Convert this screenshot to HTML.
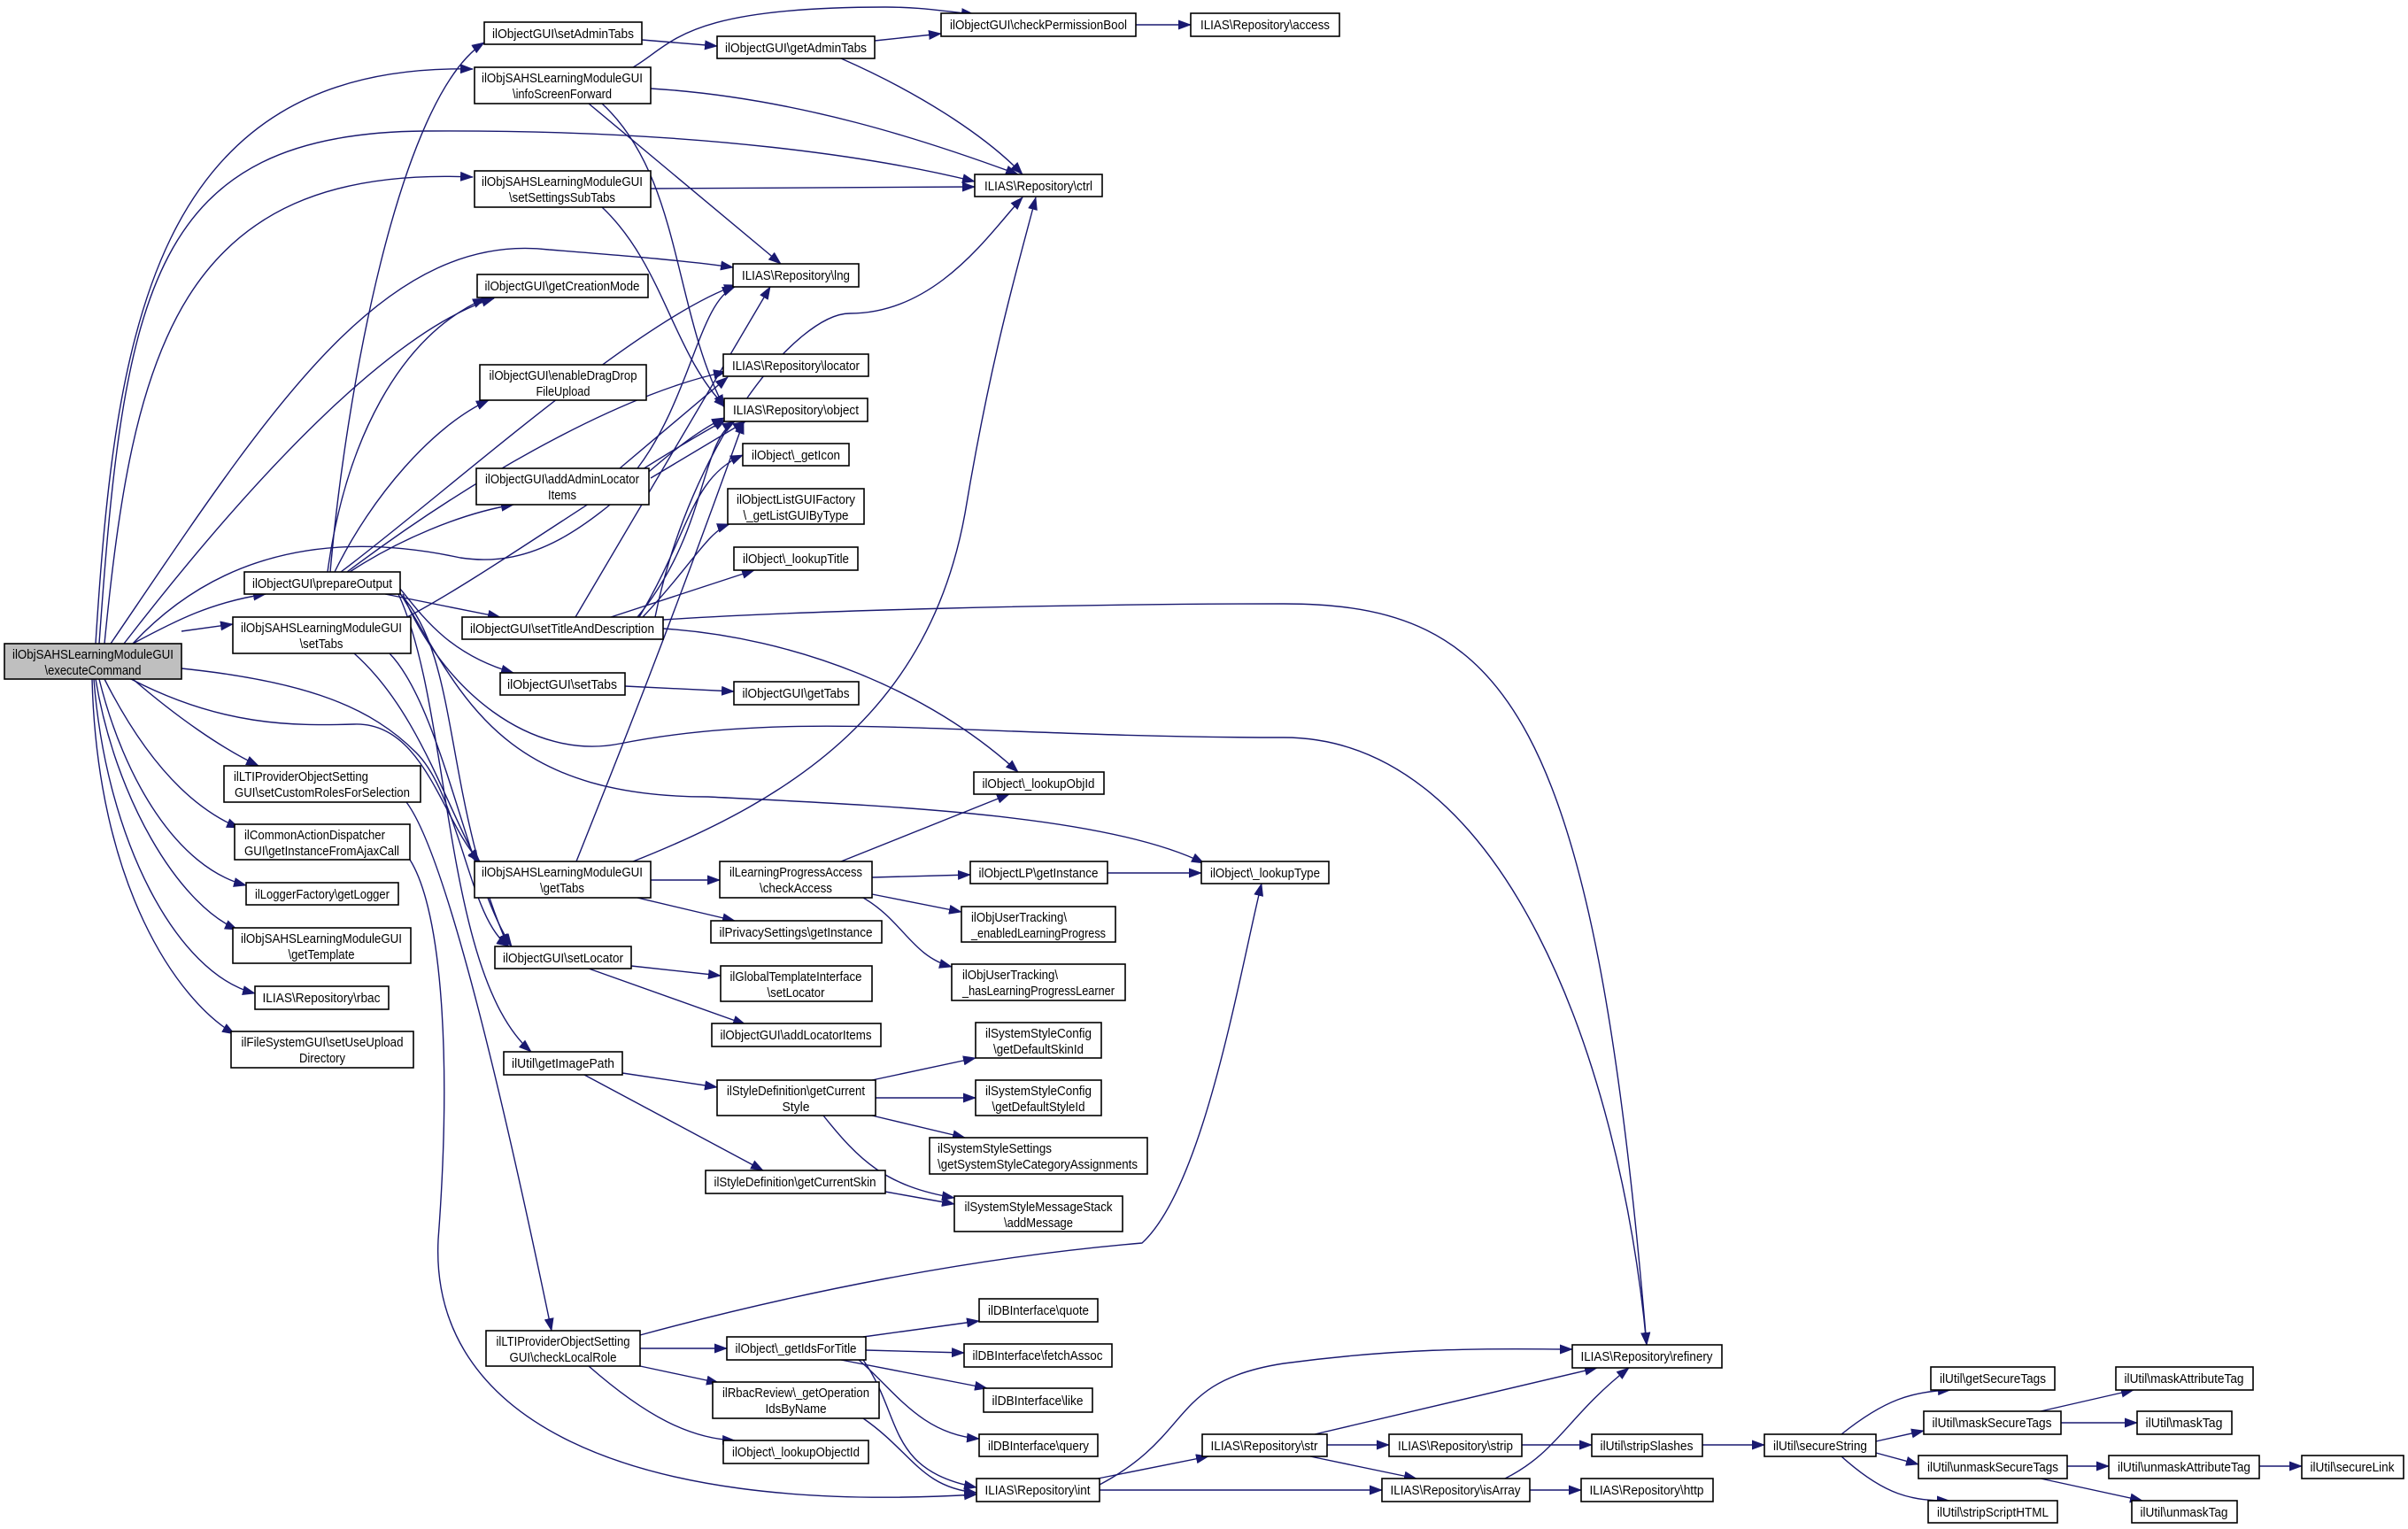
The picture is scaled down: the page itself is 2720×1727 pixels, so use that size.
<!DOCTYPE html>
<html><head><meta charset="utf-8"><style>
html,body{margin:0;padding:0;background:#fff}
svg{display:block}
text{font-family:"Liberation Sans",sans-serif;font-size:15px;fill:#000}
.n rect{fill:#fff;stroke:#000;stroke-width:1.6}
.e path{fill:none;stroke:#191970;stroke-width:1.4}
</style></head><body>
<svg width="2720" height="1727" viewBox="0 0 2720 1727" xmlns="http://www.w3.org/2000/svg">
<defs><marker id="a" markerWidth="15" markerHeight="11" refX="14" refY="5.5" orient="auto" markerUnits="userSpaceOnUse"><path d="M0,0 L15,5.5 L0,11 z" fill="#191970"/></marker></defs>
<g class="e" marker-end="url(#a)">
<!-- executeCommand -->
<path marker-end="url(#a)" d="M108,727 C130,380 170,70 534,78"/>
<path marker-end="url(#a)" d="M112,727 C140,330 170,150 480,148 C800,146 1000,180 1101,205"/>
<path marker-end="url(#a)" d="M118,727 C150,400 200,185 534,200"/>
<path marker-end="url(#a)" d="M125,727 C300,470 430,260 620,282 C720,290 780,295 828,302"/>
<path marker-end="url(#a)" d="M140,727 C300,520 450,370 558,337"/>
<path marker-end="url(#a)" d="M150,727 C200,700 240,680 300,671"/>
<path marker-end="url(#a)" d="M205,713 L263,705"/>
<path marker-end="url(#a)" d="M150,767 C200,810 250,845 292,865"/>
<path marker-end="url(#a)" d="M118,767 C160,850 210,910 270,935"/>
<path marker-end="url(#a)" d="M112,767 C140,880 200,980 278,1000"/>
<path marker-end="url(#a)" d="M108,767 C130,900 200,1020 268,1050"/>
<path marker-end="url(#a)" d="M106,767 C120,950 200,1100 288,1122"/>
<path marker-end="url(#a)" d="M104,767 C110,1000 200,1130 265,1168"/>
<path marker-end="url(#a)" d="M148,767 C250,820 330,820 400,818 C480,815 500,930 542,973"/>
<path marker-end="url(#a)" d="M205,755 C350,770 420,800 470,850 C520,900 530,1040 575,1069"/>
<path marker-end="url(#a)" d="M150,727 C250,620 380,600 520,630 C650,650 720,520 818,472"/>
<!-- prepareOutput -->
<path marker-end="url(#a)" d="M373,646 C390,450 450,110 547,48"/>
<path marker-end="url(#a)" d="M370,646 C390,500 450,380 548,337"/>
<path marker-end="url(#a)" d="M378,646 C420,560 490,480 552,452"/>
<path marker-end="url(#a)" d="M395,646 C450,610 520,580 580,570"/>
<path marker-end="url(#a)" d="M385,646 C500,560 720,360 832,322"/>
<path marker-end="url(#a)" d="M392,646 C560,520 720,440 820,420"/>
<path marker-end="url(#a)" d="M435,671 L565,697"/>
<path marker-end="url(#a)" d="M452,665 C480,700 510,740 580,760"/>
<path marker-end="url(#a)" d="M452,671 C520,740 500,900 574,1069"/>
<path marker-end="url(#a)" d="M450,671 C510,800 500,1100 600,1188"/>
<path marker-end="url(#a)" d="M455,671 C500,780 600,860 700,840 C900,800 1100,833 1450,833 C1700,833 1830,1200 1860,1519"/>
<path marker-end="url(#a)" d="M452,670 C520,780 560,900 800,900 C1000,910 1250,920 1360,975"/>
<!-- setTabs SAHS -->
<path marker-end="url(#a)" d="M460,697 C550,650 700,540 820,474"/>
<path marker-end="url(#a)" d="M400,738 C470,800 500,900 540,975"/>
<path marker-end="url(#a)" d="M440,738 C500,800 530,1000 578,1069"/>
<!-- infoScreenForward -->
<path marker-end="url(#a)" d="M715,76 C760,50 770,8 1000,8 C1040,8 1060,12 1100,16"/>
<path marker-end="url(#a)" d="M735,100 C900,110 1050,160 1150,197"/>
<path marker-end="url(#a)" d="M665,117 L882,298"/>
<path marker-end="url(#a)" d="M680,117 C770,200 760,350 818,460"/>
<path marker-end="url(#a)" d="M725,45 L810,52"/>
<path marker-end="url(#a)" d="M988,46 L1063,38"/>
<path marker-end="url(#a)" d="M950,66 C1050,110 1120,160 1155,197"/>
<path marker-end="url(#a)" d="M1283,28 L1345,28"/>
<path marker-end="url(#a)" d="M735,213 L1101,211"/>
<path marker-end="url(#a)" d="M680,234 C750,300 760,400 820,460"/>
<!-- addAdminLocatorItems -->
<path marker-end="url(#a)" d="M720,529 C780,450 790,340 830,324"/>
<path marker-end="url(#a)" d="M700,529 L822,426"/>
<path marker-end="url(#a)" d="M735,540 L842,476"/>
<!-- setTitleAndDescription -->
<path marker-end="url(#a)" d="M650,697 L870,324"/>
<path marker-end="url(#a)" d="M720,697 C800,600 790,500 830,476"/>
<path marker-end="url(#a)" d="M722,697 C780,600 780,540 839,514"/>
<path marker-end="url(#a)" d="M726,697 C780,640 800,600 824,592"/>
<path marker-end="url(#a)" d="M690,697 L852,644"/>
<path marker-end="url(#a)" d="M749,710 C900,720 1050,780 1150,872"/>
<path marker-end="url(#a)" d="M749,700 C900,690 1200,682 1450,682 C1700,682 1800,800 1860,1519"/>
<path marker-end="url(#a)" d="M740,697 C780,500 900,354 960,354 C1060,354 1120,260 1155,223"/>
<path marker-end="url(#a)" d="M706,775 L829,781"/>
<!-- getTabs SAHS -->
<path marker-end="url(#a)" d="M735,994 L813,994"/>
<path marker-end="url(#a)" d="M720,1014 L830,1040"/>
<path marker-end="url(#a)" d="M651,973 C700,850 760,700 840,476"/>
<path marker-end="url(#a)" d="M715,973 C900,900 1050,800 1090,580 C1120,400 1150,300 1170,223"/>
<path marker-end="url(#a)" d="M459,906 C500,960 560,1200 623,1503"/>
<path marker-end="url(#a)" d="M463,971 C500,1030 510,1200 495,1400 C485,1600 700,1712 1103,1688"/>
<!-- setLocator etc -->
<path marker-end="url(#a)" d="M713,1091 L814,1102"/>
<path marker-end="url(#a)" d="M665,1094 L842,1157"/>
<path marker-end="url(#a)" d="M703,1212 L810,1228"/>
<path marker-end="url(#a)" d="M660,1214 L862,1322"/>
<path marker-end="url(#a)" d="M985,1220 L1102,1195"/>
<path marker-end="url(#a)" d="M989,1240 L1102,1240"/>
<path marker-end="url(#a)" d="M985,1260 L1090,1285"/>
<path marker-end="url(#a)" d="M930,1260 C970,1310 1000,1340 1078,1353"/>
<path marker-end="url(#a)" d="M1000,1346 L1078,1360"/>
<!-- checkAccess -->
<path marker-end="url(#a)" d="M950,973 L1140,897"/>
<path marker-end="url(#a)" d="M985,991 L1096,988"/>
<path marker-end="url(#a)" d="M985,1010 L1086,1030"/>
<path marker-end="url(#a)" d="M975,1014 C1020,1040 1030,1080 1075,1092"/>
<path marker-end="url(#a)" d="M1251,986 L1357,986"/>
<!-- checkLocalRole -->
<path marker-end="url(#a)" d="M723,1508 C900,1460 1100,1420 1290,1404 C1360,1340 1400,1100 1425,998"/>
<path marker-end="url(#a)" d="M723,1523 L821,1523"/>
<path marker-end="url(#a)" d="M723,1543 L812,1562"/>
<path marker-end="url(#a)" d="M665,1543 C730,1600 780,1625 830,1627"/>
<!-- getIdsForTitle -->
<path marker-end="url(#a)" d="M975,1510 L1106,1492"/>
<path marker-end="url(#a)" d="M978,1525 L1089,1528"/>
<path marker-end="url(#a)" d="M950,1536 L1115,1568"/>
<path marker-end="url(#a)" d="M970,1536 C1010,1570 1040,1620 1106,1625"/>
<path marker-end="url(#a)" d="M975,1536 C1020,1600 1000,1660 1103,1680"/>
<path marker-end="url(#a)" d="M975,1602 C1030,1640 1040,1680 1103,1686"/>
<!-- int, str ... -->
<path marker-end="url(#a)" d="M1240,1670 L1365,1645"/>
<path marker-end="url(#a)" d="M1242,1683 L1561,1683"/>
<path marker-end="url(#a)" d="M1242,1677 C1350,1620 1320,1560 1450,1540 C1600,1520 1700,1524 1776,1524"/>
<path marker-end="url(#a)" d="M1485,1620 L1804,1545"/>
<path marker-end="url(#a)" d="M1499,1632 L1569,1632"/>
<path marker-end="url(#a)" d="M1480,1645 L1600,1670"/>
<path marker-end="url(#a)" d="M1719,1632 L1798,1632"/>
<path marker-end="url(#a)" d="M1700,1670 C1760,1640 1770,1600 1840,1545"/>
<path marker-end="url(#a)" d="M1728,1683 L1786,1683"/>
<path marker-end="url(#a)" d="M1923,1632 L1993,1632"/>
<path marker-end="url(#a)" d="M2080,1620 C2130,1580 2160,1572 2203,1570"/>
<path marker-end="url(#a)" d="M2119,1628 L2173,1616"/>
<path marker-end="url(#a)" d="M2119,1641 L2167,1654"/>
<path marker-end="url(#a)" d="M2080,1645 C2130,1690 2160,1695 2202,1695"/>
<path marker-end="url(#a)" d="M2305,1594 L2410,1570"/>
<path marker-end="url(#a)" d="M2328,1607 L2414,1607"/>
<path marker-end="url(#a)" d="M2335,1656 L2382,1656"/>
<path marker-end="url(#a)" d="M2305,1670 L2420,1695"/>
<path marker-end="url(#a)" d="M2552,1656 L2600,1656"/>
</g>
<g class="n">
<rect x="5" y="727" width="200" height="40" style="fill:#bfbfbf"/><text x="105" y="744" text-anchor="middle" textLength="182" lengthAdjust="spacingAndGlyphs">ilObjSAHSLearningModuleGUI</text><text x="105" y="762" text-anchor="middle" textLength="109" lengthAdjust="spacingAndGlyphs">\executeCommand</text>
<rect x="547" y="25" width="178" height="25"/><text x="636" y="43" text-anchor="middle" textLength="160" lengthAdjust="spacingAndGlyphs">ilObjectGUI\setAdminTabs</text>
<rect x="536" y="76" width="199" height="41"/><text x="635" y="93" text-anchor="middle" textLength="182" lengthAdjust="spacingAndGlyphs">ilObjSAHSLearningModuleGUI</text><text x="635" y="111" text-anchor="middle" textLength="112" lengthAdjust="spacingAndGlyphs">\infoScreenForward</text>
<rect x="536" y="193" width="199" height="41"/><text x="635" y="210" text-anchor="middle" textLength="182" lengthAdjust="spacingAndGlyphs">ilObjSAHSLearningModuleGUI</text><text x="635" y="228" text-anchor="middle" textLength="120" lengthAdjust="spacingAndGlyphs">\setSettingsSubTabs</text>
<rect x="539" y="310" width="193" height="26"/><text x="635" y="328" text-anchor="middle" textLength="175" lengthAdjust="spacingAndGlyphs">ilObjectGUI\getCreationMode</text>
<rect x="542" y="412" width="188" height="40"/><text x="636" y="429" text-anchor="middle" textLength="167" lengthAdjust="spacingAndGlyphs">ilObjectGUI\enableDragDrop</text><text x="636" y="447" text-anchor="middle" textLength="61" lengthAdjust="spacingAndGlyphs">FileUpload</text>
<rect x="538" y="529" width="195" height="41"/><text x="635" y="546" text-anchor="middle" textLength="174" lengthAdjust="spacingAndGlyphs">ilObjectGUI\addAdminLocator</text><text x="635" y="564" text-anchor="middle" textLength="32" lengthAdjust="spacingAndGlyphs">Items</text>
<rect x="276" y="646" width="176" height="25"/><text x="364" y="664" text-anchor="middle" textLength="158" lengthAdjust="spacingAndGlyphs">ilObjectGUI\prepareOutput</text>
<rect x="263" y="697" width="201" height="41"/><text x="363" y="714" text-anchor="middle" textLength="182" lengthAdjust="spacingAndGlyphs">ilObjSAHSLearningModuleGUI</text><text x="363" y="732" text-anchor="middle" textLength="49" lengthAdjust="spacingAndGlyphs">\setTabs</text>
<rect x="522" y="697" width="227" height="25"/><text x="635" y="715" text-anchor="middle" textLength="208" lengthAdjust="spacingAndGlyphs">ilObjectGUI\setTitleAndDescription</text>
<rect x="565" y="760" width="141" height="25"/><text x="635" y="778" text-anchor="middle" textLength="124" lengthAdjust="spacingAndGlyphs">ilObjectGUI\setTabs</text>
<rect x="253" y="865" width="222" height="41"/><text x="264" y="882" textLength="152" lengthAdjust="spacingAndGlyphs">ilLTIProviderObjectSetting</text><text x="265" y="900" textLength="198" lengthAdjust="spacingAndGlyphs">GUI\setCustomRolesForSelection</text>
<rect x="265" y="931" width="198" height="40"/><text x="276" y="948" textLength="159" lengthAdjust="spacingAndGlyphs">ilCommonActionDispatcher</text><text x="276" y="966" textLength="175" lengthAdjust="spacingAndGlyphs">GUI\getInstanceFromAjaxCall</text>
<rect x="278" y="997" width="172" height="25"/><text x="364" y="1015" text-anchor="middle" textLength="152" lengthAdjust="spacingAndGlyphs">ilLoggerFactory\getLogger</text>
<rect x="263" y="1048" width="201" height="40"/><text x="363" y="1065" text-anchor="middle" textLength="182" lengthAdjust="spacingAndGlyphs">ilObjSAHSLearningModuleGUI</text><text x="363" y="1083" text-anchor="middle" textLength="75" lengthAdjust="spacingAndGlyphs">\getTemplate</text>
<rect x="288" y="1114" width="151" height="26"/><text x="363" y="1132" text-anchor="middle" textLength="133" lengthAdjust="spacingAndGlyphs">ILIAS\Repository\rbac</text>
<rect x="261" y="1165" width="206" height="41"/><text x="364" y="1182" text-anchor="middle" textLength="183" lengthAdjust="spacingAndGlyphs">ilFileSystemGUI\setUseUpload</text><text x="364" y="1200" text-anchor="middle" textLength="52" lengthAdjust="spacingAndGlyphs">Directory</text>
<rect x="536" y="973" width="199" height="41"/><text x="635" y="990" text-anchor="middle" textLength="182" lengthAdjust="spacingAndGlyphs">ilObjSAHSLearningModuleGUI</text><text x="635" y="1008" text-anchor="middle" textLength="50" lengthAdjust="spacingAndGlyphs">\getTabs</text>
<rect x="559" y="1069" width="154" height="25"/><text x="636" y="1087" text-anchor="middle" textLength="136" lengthAdjust="spacingAndGlyphs">ilObjectGUI\setLocator</text>
<rect x="569" y="1188" width="134" height="26"/><text x="636" y="1206" text-anchor="middle" textLength="116" lengthAdjust="spacingAndGlyphs">ilUtil\getImagePath</text>
<rect x="549" y="1503" width="174" height="40"/><text x="636" y="1520" text-anchor="middle" textLength="151" lengthAdjust="spacingAndGlyphs">ilLTIProviderObjectSetting</text><text x="636" y="1538" text-anchor="middle" textLength="121" lengthAdjust="spacingAndGlyphs">GUI\checkLocalRole</text>
<rect x="810" y="41" width="178" height="25"/><text x="899" y="59" text-anchor="middle" textLength="160" lengthAdjust="spacingAndGlyphs">ilObjectGUI\getAdminTabs</text>
<rect x="1063" y="15" width="220" height="26"/><text x="1173" y="33" text-anchor="middle" textLength="200" lengthAdjust="spacingAndGlyphs">ilObjectGUI\checkPermissionBool</text>
<rect x="1345" y="15" width="168" height="26"/><text x="1429" y="33" text-anchor="middle" textLength="146" lengthAdjust="spacingAndGlyphs">ILIAS\Repository\access</text>
<rect x="1101" y="197" width="144" height="25"/><text x="1173" y="215" text-anchor="middle" textLength="122" lengthAdjust="spacingAndGlyphs">ILIAS\Repository\ctrl</text>
<rect x="828" y="298" width="142" height="26"/><text x="899" y="316" text-anchor="middle" textLength="122" lengthAdjust="spacingAndGlyphs">ILIAS\Repository\lng</text>
<rect x="817" y="400" width="164" height="25"/><text x="899" y="418" text-anchor="middle" textLength="144" lengthAdjust="spacingAndGlyphs">ILIAS\Repository\locator</text>
<rect x="818" y="450" width="162" height="26"/><text x="899" y="468" text-anchor="middle" textLength="142" lengthAdjust="spacingAndGlyphs">ILIAS\Repository\object</text>
<rect x="839" y="501" width="120" height="25"/><text x="899" y="519" text-anchor="middle" textLength="100" lengthAdjust="spacingAndGlyphs">ilObject\_getIcon</text>
<rect x="822" y="552" width="154" height="40"/><text x="899" y="569" text-anchor="middle" textLength="134" lengthAdjust="spacingAndGlyphs">ilObjectListGUIFactory</text><text x="899" y="587" text-anchor="middle" textLength="119" lengthAdjust="spacingAndGlyphs">\_getListGUIByType</text>
<rect x="829" y="618" width="140" height="26"/><text x="899" y="636" text-anchor="middle" textLength="120" lengthAdjust="spacingAndGlyphs">ilObject\_lookupTitle</text>
<rect x="829" y="770" width="141" height="26"/><text x="899" y="788" text-anchor="middle" textLength="121" lengthAdjust="spacingAndGlyphs">ilObjectGUI\getTabs</text>
<rect x="1100" y="872" width="147" height="25"/><text x="1173" y="890" text-anchor="middle" textLength="127" lengthAdjust="spacingAndGlyphs">ilObject\_lookupObjId</text>
<rect x="813" y="973" width="172" height="41"/><text x="899" y="990" text-anchor="middle" textLength="150" lengthAdjust="spacingAndGlyphs">ilLearningProgressAccess</text><text x="899" y="1008" text-anchor="middle" textLength="82" lengthAdjust="spacingAndGlyphs">\checkAccess</text>
<rect x="1096" y="973" width="155" height="25"/><text x="1173" y="991" text-anchor="middle" textLength="135" lengthAdjust="spacingAndGlyphs">ilObjectLP\getInstance</text>
<rect x="1357" y="973" width="144" height="25"/><text x="1429" y="991" text-anchor="middle" textLength="124" lengthAdjust="spacingAndGlyphs">ilObject\_lookupType</text>
<rect x="803" y="1040" width="193" height="25"/><text x="899" y="1058" text-anchor="middle" textLength="173" lengthAdjust="spacingAndGlyphs">ilPrivacySettings\getInstance</text>
<rect x="1086" y="1024" width="174" height="40"/><text x="1097" y="1041" textLength="108" lengthAdjust="spacingAndGlyphs">ilObjUserTracking\</text><text x="1097" y="1059" textLength="152" lengthAdjust="spacingAndGlyphs">_enabledLearningProgress</text>
<rect x="814" y="1091" width="171" height="40"/><text x="899" y="1108" text-anchor="middle" textLength="149" lengthAdjust="spacingAndGlyphs">ilGlobalTemplateInterface</text><text x="899" y="1126" text-anchor="middle" textLength="65" lengthAdjust="spacingAndGlyphs">\setLocator</text>
<rect x="1075" y="1089" width="196" height="41"/><text x="1087" y="1106" textLength="108" lengthAdjust="spacingAndGlyphs">ilObjUserTracking\</text><text x="1087" y="1124" textLength="172" lengthAdjust="spacingAndGlyphs">_hasLearningProgressLearner</text>
<rect x="804" y="1156" width="191" height="26"/><text x="899" y="1174" text-anchor="middle" textLength="171" lengthAdjust="spacingAndGlyphs">ilObjectGUI\addLocatorItems</text>
<rect x="1102" y="1155" width="142" height="40"/><text x="1173" y="1172" text-anchor="middle" textLength="120" lengthAdjust="spacingAndGlyphs">ilSystemStyleConfig</text><text x="1173" y="1190" text-anchor="middle" textLength="102" lengthAdjust="spacingAndGlyphs">\getDefaultSkinId</text>
<rect x="810" y="1220" width="179" height="40"/><text x="899" y="1237" text-anchor="middle" textLength="156" lengthAdjust="spacingAndGlyphs">ilStyleDefinition\getCurrent</text><text x="899" y="1255" text-anchor="middle" textLength="31" lengthAdjust="spacingAndGlyphs">Style</text>
<rect x="1102" y="1220" width="142" height="40"/><text x="1173" y="1237" text-anchor="middle" textLength="120" lengthAdjust="spacingAndGlyphs">ilSystemStyleConfig</text><text x="1173" y="1255" text-anchor="middle" textLength="105" lengthAdjust="spacingAndGlyphs">\getDefaultStyleId</text>
<rect x="1050" y="1285" width="246" height="41"/><text x="1059" y="1302" textLength="129" lengthAdjust="spacingAndGlyphs">ilSystemStyleSettings</text><text x="1059" y="1320" textLength="226" lengthAdjust="spacingAndGlyphs">\getSystemStyleCategoryAssignments</text>
<rect x="797" y="1322" width="203" height="26"/><text x="898" y="1340" text-anchor="middle" textLength="183" lengthAdjust="spacingAndGlyphs">ilStyleDefinition\getCurrentSkin</text>
<rect x="1078" y="1351" width="190" height="40"/><text x="1173" y="1368" text-anchor="middle" textLength="167" lengthAdjust="spacingAndGlyphs">ilSystemStyleMessageStack</text><text x="1173" y="1386" text-anchor="middle" textLength="78" lengthAdjust="spacingAndGlyphs">\addMessage</text>
<rect x="1106" y="1467" width="134" height="26"/><text x="1173" y="1485" text-anchor="middle" textLength="114" lengthAdjust="spacingAndGlyphs">ilDBInterface\quote</text>
<rect x="821" y="1510" width="157" height="26"/><text x="899" y="1528" text-anchor="middle" textLength="137" lengthAdjust="spacingAndGlyphs">ilObject\_getIdsForTitle</text>
<rect x="1089" y="1518" width="167" height="26"/><text x="1172" y="1536" text-anchor="middle" textLength="147" lengthAdjust="spacingAndGlyphs">ilDBInterface\fetchAssoc</text>
<rect x="805" y="1561" width="188" height="41"/><text x="899" y="1578" text-anchor="middle" textLength="166" lengthAdjust="spacingAndGlyphs">ilRbacReview\_getOperation</text><text x="899" y="1596" text-anchor="middle" textLength="69" lengthAdjust="spacingAndGlyphs">IdsByName</text>
<rect x="1111" y="1568" width="123" height="27"/><text x="1172" y="1587" text-anchor="middle" textLength="103" lengthAdjust="spacingAndGlyphs">ilDBInterface\like</text>
<rect x="1106" y="1620" width="134" height="25"/><text x="1173" y="1638" text-anchor="middle" textLength="114" lengthAdjust="spacingAndGlyphs">ilDBInterface\query</text>
<rect x="817" y="1627" width="164" height="26"/><text x="899" y="1645" text-anchor="middle" textLength="144" lengthAdjust="spacingAndGlyphs">ilObject\_lookupObjectId</text>
<rect x="1103" y="1670" width="139" height="26"/><text x="1172" y="1688" text-anchor="middle" textLength="119" lengthAdjust="spacingAndGlyphs">ILIAS\Repository\int</text>
<rect x="1358" y="1620" width="141" height="25"/><text x="1428" y="1638" text-anchor="middle" textLength="121" lengthAdjust="spacingAndGlyphs">ILIAS\Repository\str</text>
<rect x="1569" y="1620" width="150" height="25"/><text x="1644" y="1638" text-anchor="middle" textLength="130" lengthAdjust="spacingAndGlyphs">ILIAS\Repository\strip</text>
<rect x="1561" y="1670" width="167" height="26"/><text x="1644" y="1688" text-anchor="middle" textLength="147" lengthAdjust="spacingAndGlyphs">ILIAS\Repository\isArray</text>
<rect x="1786" y="1670" width="149" height="26"/><text x="1860" y="1688" text-anchor="middle" textLength="129" lengthAdjust="spacingAndGlyphs">ILIAS\Repository\http</text>
<rect x="1776" y="1519" width="169" height="26"/><text x="1860" y="1537" text-anchor="middle" textLength="149" lengthAdjust="spacingAndGlyphs">ILIAS\Repository\refinery</text>
<rect x="1798" y="1620" width="125" height="25"/><text x="1860" y="1638" text-anchor="middle" textLength="105" lengthAdjust="spacingAndGlyphs">ilUtil\stripSlashes</text>
<rect x="1993" y="1620" width="126" height="25"/><text x="2056" y="1638" text-anchor="middle" textLength="106" lengthAdjust="spacingAndGlyphs">ilUtil\secureString</text>
<rect x="2181" y="1544" width="140" height="26"/><text x="2251" y="1562" text-anchor="middle" textLength="120" lengthAdjust="spacingAndGlyphs">ilUtil\getSecureTags</text>
<rect x="2390" y="1544" width="155" height="26"/><text x="2467" y="1562" text-anchor="middle" textLength="135" lengthAdjust="spacingAndGlyphs">ilUtil\maskAttributeTag</text>
<rect x="2173" y="1594" width="155" height="26"/><text x="2250" y="1612" text-anchor="middle" textLength="135" lengthAdjust="spacingAndGlyphs">ilUtil\maskSecureTags</text>
<rect x="2414" y="1594" width="107" height="26"/><text x="2467" y="1612" text-anchor="middle" textLength="87" lengthAdjust="spacingAndGlyphs">ilUtil\maskTag</text>
<rect x="2167" y="1644" width="168" height="26"/><text x="2251" y="1662" text-anchor="middle" textLength="148" lengthAdjust="spacingAndGlyphs">ilUtil\unmaskSecureTags</text>
<rect x="2382" y="1644" width="170" height="26"/><text x="2467" y="1662" text-anchor="middle" textLength="150" lengthAdjust="spacingAndGlyphs">ilUtil\unmaskAttributeTag</text>
<rect x="2600" y="1644" width="115" height="26"/><text x="2657" y="1662" text-anchor="middle" textLength="95" lengthAdjust="spacingAndGlyphs">ilUtil\secureLink</text>
<rect x="2178" y="1695" width="146" height="25"/><text x="2251" y="1713" text-anchor="middle" textLength="126" lengthAdjust="spacingAndGlyphs">ilUtil\stripScriptHTML</text>
<rect x="2408" y="1695" width="119" height="25"/><text x="2467" y="1713" text-anchor="middle" textLength="99" lengthAdjust="spacingAndGlyphs">ilUtil\unmaskTag</text>
</g>
</svg>
</body></html>
